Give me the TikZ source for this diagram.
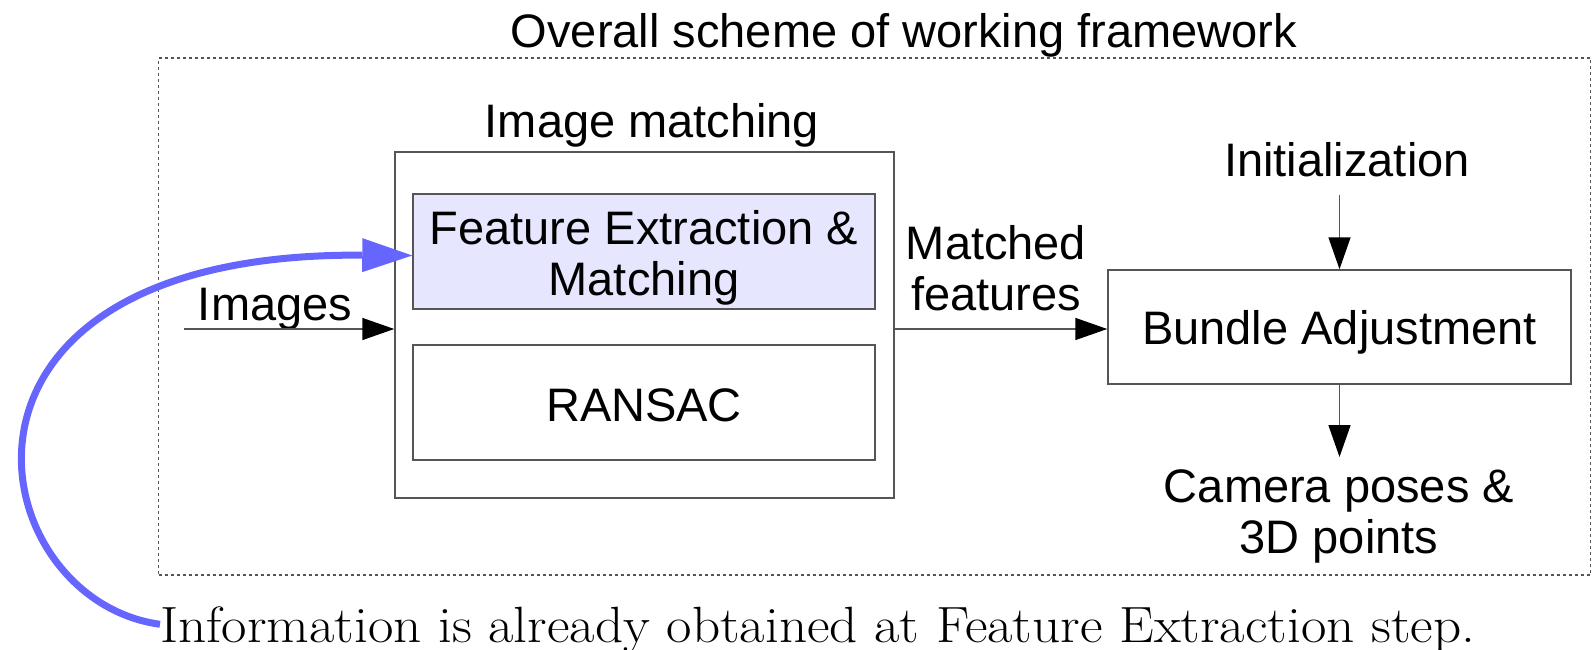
\documentclass[tikz,border=0pt]{standalone}
\usepackage{fontspec}
\setsansfont{Liberation Sans}
\usetikzlibrary{arrows.meta}
\definecolor{boxgray}{HTML}{555555}
\definecolor{fefill}{HTML}{E6E6FF}
\definecolor{infoblue}{HTML}{6666FF}
\begin{document}
\begin{tikzpicture}[x=1pt,y=-1pt,
  lbl/.style={font=\sffamily\fontsize{47}{51}\selectfont, inner sep=0pt, align=center},
  box/.style={draw=boxgray, line width=1.5pt, rectangle, inner sep=0pt},
  arr/.style={draw=boxgray, line width=1.5pt, -{Triangle[length=32pt,width=22pt,color=black,fill=black]}},
  framebox/.style={draw=boxgray, line width=1.2pt, dash pattern=on 3pt off 3pt, rectangle, inner sep=0pt},
  infoarr/.style={draw=infoblue, line width=7pt, -{Triangle[length=50pt,width=34pt,color=infoblue,fill=infoblue,line width=0pt]}}
]
\useasboundingbox (0,0) rectangle (1593,650);
% frame
\node[framebox, minimum width=1432pt, minimum height=517pt] (frame) at (874.75,316.5) {};
\node[lbl, anchor=base] (title) at (904,48) {Overall scheme of working framework};
% image matching
\node[lbl, anchor=base] (imlbl) at (652,138) {Image matching};
\node[box, minimum width=499pt, minimum height=346pt] (imbox) at (644.5,325) {};
\node[box, fill=fefill, minimum width=462pt, minimum height=115pt] (fe) at (644,251.5) {};
\node[lbl, anchor=base] (fetxt) at (644,295) {Feature Extraction \&\\Matching};
\node[box, minimum width=462pt, minimum height=115pt] (ransac) at (644,402.5) {};
\node[lbl, anchor=base] (ransactxt) at (644,421.5) {RANSAC};
% images input
\node[lbl, anchor=base] (imgtxt) at (275,320) {Images};
\coordinate (imgsrc) at (184,329);
\draw[arr] (imgsrc) -- (imgsrc -| imbox.west);
% bundle adjustment
\node[box, minimum width=463pt, minimum height=114pt] (ba) at (1339.5,327) {};
\node[lbl, anchor=base] (batxt) at (1339.5,344.5) {Bundle Adjustment};
\node[lbl, anchor=base] (mftxt) at (996,310) {Matched\\features};
\draw[arr] (imbox.east |- 0,329) -- (ba.west |- 0,329);
\node[lbl, anchor=base] (inittxt) at (1347,176) {Initialization};
\coordinate (initsrc) at (1339.5,195);
\draw[arr] (initsrc) -- (ba.north);
\coordinate (outdst) at (1339.5,457);
\draw[arr] (ba.south) -- (outdst);
\node[lbl, anchor=base] (outtxt) at (1339,553) {Camera poses \&\\3D points};
% info
\node[anchor=base west, inner sep=0pt, font=\fontsize{51}{56}\selectfont] (info) at (160,642) {\scalebox{1.083}[1]{Information is already obtained at Feature Extraction step.}};
\draw[infoarr] ([yshift=5pt]info.west) .. controls (-20,600) and (-90,252) .. ([yshift=-4pt]fe.west);
\end{tikzpicture}
\end{document}
